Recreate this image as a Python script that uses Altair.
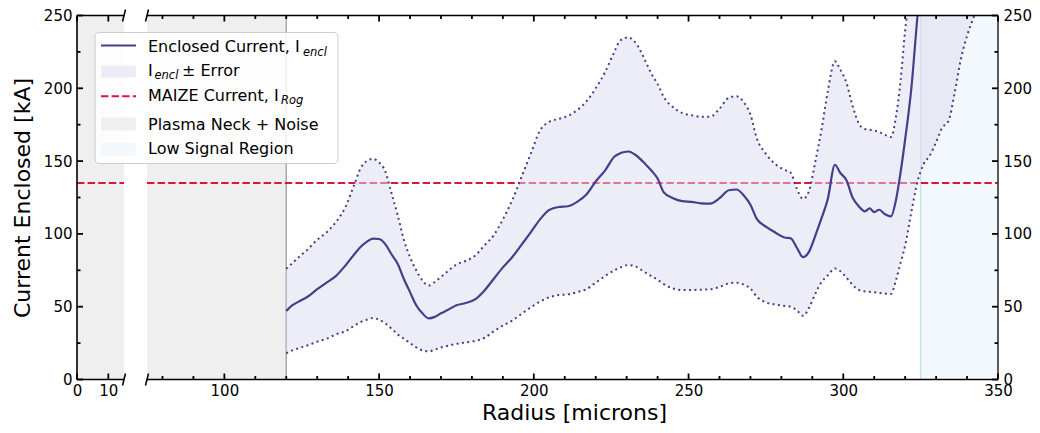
import altair as alt
import pandas as pd

# ---------------- data ----------------
radius = [120, 122, 124, 127, 130, 133, 136, 139, 142, 144, 146, 148, 150, 152, 154, 156, 158,
          160, 162, 164, 166, 168, 170, 172, 175, 178, 181, 184, 187, 190, 193, 196, 199, 202,
          205, 208, 211, 214, 217, 220, 223, 226, 228, 230.5, 233, 236, 238, 240, 242, 245,
          248, 251, 254, 257, 260, 263, 265.5, 268, 270, 272, 275, 278, 281, 283, 285, 287,
          289, 291, 293, 295, 297.3, 299, 301, 303, 305, 307, 308.5, 310, 311.6, 313.5, 315.4,
          317, 318.5, 320, 322, 324, 326, 328, 330, 332, 334, 336, 338, 340, 342, 344]
current = [47, 51, 53.5, 57, 62, 66.5, 71, 78, 86, 91, 94.5, 96.8, 96.5, 93, 86, 79.5, 69,
           60, 51, 45.5, 42, 43, 45.5, 47.5, 51, 52.5, 55, 61, 69, 77, 84, 92.5, 101, 110,
           116.5, 118.5, 119, 122, 127, 136, 143.5, 153, 155.5, 156.6, 154, 148, 143.5, 138,
           128.5, 124.5, 122.5, 122, 121, 120.8, 124.5, 130, 130.5, 126, 120, 110.5, 105, 101,
           97.5, 97, 90.5, 84, 88, 99, 111, 124, 147.5, 142, 137, 125, 119, 115.5, 117.5, 115,
           116.6, 113.5, 112, 123, 142, 165, 200, 250, 290, None, None, None, None, None,
           None, None, None, None]
upper = [76, 80, 84, 89.5, 96, 101, 108, 118, 134, 145, 150, 151.5, 149, 143, 128, 113, 96,
         84, 75, 68, 64.5, 67, 70.5, 74, 79, 81.5, 85, 92, 99, 110, 123, 139, 155, 171,
         177, 179, 181, 185, 191, 200, 211, 225, 233, 235, 231, 219, 210, 203, 194, 187,
         183, 181.5, 180.5, 180.5, 186, 193.5, 194.5, 190, 182, 166, 155, 148, 144, 142, 131,
         124, 130, 150, 172, 198, 218.6, 213, 204, 188, 176, 172, 171.5, 171, 170, 168, 166.5,
         180, 205, 240, 270, 300, 330, 360, 380, 400, 420, 440, 460, 480, 500, 520]
lower = [18, 20, 21.5, 23.5, 26, 28, 31, 33, 37, 39.5, 41, 42.2, 41, 38.5, 35, 31, 28,
         25, 22, 20, 19.3, 20.5, 22, 23, 24.5, 25.5, 26.5, 28.5, 33, 37, 40.5, 45, 49.5, 53.5,
         56.5, 58, 58.5, 60, 62, 66.5, 71, 75, 77, 78.6, 77.5, 73.5, 71, 68.5, 65.5, 62.5,
         61.5, 61.5, 61.7, 62, 63.5, 66, 66.5, 65, 62.5, 57, 53, 51.5, 50.5, 50, 47.5, 43.7,
         49.5, 59, 67, 71.5, 76.3, 74.5, 70, 65, 61.5, 60.5, 60.2, 60, 59.5, 59, 58.7,
         68, 80, 92, 115, 136, 148, 154, 163, 173, 177.5, 197, 220, 236, 248, 258]

MAIZE_CURRENT = 135
NECK_END = 120
LOW_SIGNAL_START = 325
X_MAX = 350
Y_MAX = 250
BREAK_LO, BREAK_HI = 15, 75

x_labels = [0, 10, 100, 150, 200, 250, 300, 350]
x_major = [0, 10, 100, 150, 200, 250, 300, 350]
x_minor = [80, 90, 110, 120, 130, 140, 160, 170, 180, 190, 210, 220, 230, 240,
           260, 270, 280, 290, 310, 320, 330, 340]
y_major = [0, 50, 100, 150, 200, 250]
y_minor = [25, 75, 125, 175, 225]

legend_main = ["Enclosed Current, I", "I", "MAIZE Current, I", "Plasma Neck + Noise", "Low Signal Region"]
legend_sub = ["encl", "encl", "Rog"]
legend_tail = "± Error"

# ---------------- styling ----------------
W, H = 921, 364
FONT = "DejaVu Sans"
LINE_COLOR = "#483d8b"
BAND_COLOR = "#dcdcf0"
BAND_OPACITY = 0.5
RED = "#dc143c"
GRAY_FILL = "#efefef"
BLUE_FILL = "#f2f8fb"
INTERP = "monotone"
TICK_FONT = 15

xscale = alt.Scale(domain=[0, BREAK_LO, BREAK_HI, X_MAX], range=[0, 47, 70, W], nice=False, zero=False)
yscale = alt.Scale(domain=[0, Y_MAX], nice=False, zero=False)

df = pd.DataFrame({"radius": radius, "current": current, "upper": upper, "lower": lower})
regions = pd.DataFrame({"x0": [0, BREAK_HI, LOW_SIGNAL_START],
                        "x1": [BREAK_LO, NECK_END, X_MAX],
                        "kind": ["neck", "neck", "low"]})
edges = pd.DataFrame({"x": [NECK_END, LOW_SIGNAL_START], "kind": ["neck", "low"]})
segments = pd.DataFrame({"x0": [0, BREAK_HI], "x1": [BREAK_LO, X_MAX], "y": [MAIZE_CURRENT] * 2})
breaks = pd.DataFrame({"xb": [BREAK_LO, BREAK_HI]})


def X(field, axis=None):
    return alt.X(field, type="quantitative", scale=xscale, axis=axis)


def Y(field, axis=None):
    return alt.Y(field, type="quantitative", scale=yscale, axis=axis)


x_axis = alt.Axis(values=x_labels, format="d", title="Radius [microns]", titleFont=FONT,
                  titleFontSize=22, titleFontWeight="normal", titleColor="#000",
                  titleX=497, titleY=40, titleBaseline="alphabetic", titleAlign="center",
                  labelFont=FONT, labelFontSize=TICK_FONT, labelColor="#000", labelPadding=4,
                  labelFlush=False, labelOverlap=False, ticks=False, domain=False, grid=False, zindex=1)
y_axis_left = alt.Axis(values=y_major, format="d", title="Current Enclosed [kA]", titleFont=FONT,
                       titleFontSize=22, titleFontWeight="normal", titleColor="#000",
                       titleX=-55, titleY=H / 2, titleAngle=270, titleBaseline="middle",
                       titleAlign="center", labelFont=FONT, labelFontSize=TICK_FONT, labelColor="#000",
                       labelPadding=5, ticks=False, domain=False, grid=False, zindex=1)
y_axis_right = alt.Axis(values=y_major, format="d", title=None, orient="right",
                        labelFont=FONT, labelFontSize=TICK_FONT, labelColor="#000",
                        labelPadding=5, ticks=False, domain=False, grid=False, zindex=1)

region_layer = alt.Chart(regions).mark_rect().encode(
    x=X("x0"), x2="x1", y=alt.value(0), y2=alt.value(H),
    color=alt.Color("kind:N", scale=alt.Scale(domain=["neck", "low"], range=[GRAY_FILL, BLUE_FILL]), legend=None),
)
edge_layer = alt.Chart(edges).mark_rule(strokeWidth=1.5).encode(
    x=X("x"), y=alt.value(0), y2=alt.value(H),
    color=alt.Color("kind:N", scale=alt.Scale(domain=["neck", "low"], range=["#a8a8a8", "#c3e2ec"]), legend=None),
)
maize_layer = alt.Chart(segments).mark_rule(color=RED, strokeWidth=2, strokeDash=[7.4, 3.2]).encode(
    x=X("x0"), x2="x1", y=Y("y"),
)
band_layer = alt.Chart(df).mark_area(color=BAND_COLOR, opacity=BAND_OPACITY, clip=True,
                                     interpolate=INTERP).encode(
    x=X("radius", x_axis), y=Y("lower", y_axis_left), y2="upper",
)
upper_layer = alt.Chart(df).mark_line(color=LINE_COLOR, strokeWidth=2, strokeDash=[2, 3.4], clip=True,
                                      interpolate=INTERP).encode(
    x=X("radius"), y=Y("upper", y_axis_right),
)
lower_layer = alt.Chart(df).mark_line(color=LINE_COLOR, strokeWidth=2, strokeDash=[2, 3.4], clip=True,
                                      interpolate=INTERP).encode(
    x=X("radius"), y=Y("lower"),
)
line_layer = alt.Chart(df).mark_line(color=LINE_COLOR, strokeWidth=2.2, clip=True,
                                     interpolate=INTERP).encode(
    x=X("radius"), y=Y("current"),
)

# spines (top / bottom broken, left / right full)
spine_df = pd.DataFrame({"x0": [0, BREAK_HI], "x1": [BREAK_LO, X_MAX]})
spine_bottom = alt.Chart(spine_df).mark_rule(color="#000", strokeWidth=1.6).encode(
    x=X("x0"), x2="x1", y=alt.value(H))
spine_top = alt.Chart(spine_df).mark_rule(color="#000", strokeWidth=1.6).encode(
    x=X("x0"), x2="x1", y=alt.value(0))
spine_left = alt.Chart(pd.DataFrame({"y": [0]})).mark_rule(color="#000", strokeWidth=1.6).encode(
    x=alt.value(0), y=alt.value(0), y2=alt.value(H))
spine_right = alt.Chart(pd.DataFrame({"y": [0]})).mark_rule(color="#333", strokeWidth=1.6).encode(
    x=alt.value(W), y=alt.value(0), y2=alt.value(H))


# inward ticks
def xticks(vals, length):
    d = pd.DataFrame({"t": vals})
    bot = alt.Chart(d).mark_rule(color="#000", strokeWidth=1.8).encode(
        x=X("t"), y=alt.value(H), y2=alt.value(H - length))
    top = alt.Chart(d).mark_rule(color="#000", strokeWidth=1.8).encode(
        x=X("t"), y=alt.value(0), y2=alt.value(length))
    return [bot, top]


def yticks(vals, length):
    d = pd.DataFrame({"t": vals})
    left = alt.Chart(d).mark_rule(color="#000", strokeWidth=1.8).encode(
        y=Y("t"), x=alt.value(0), x2=alt.value(length))
    right = alt.Chart(d).mark_rule(color="#000", strokeWidth=1.8).encode(
        y=Y("t"), x=alt.value(W), x2=alt.value(W - length))
    return [left, right]


tick_layers = xticks(x_major, 6) + xticks(x_minor, 3.5) + yticks(y_major, 6) + yticks(y_minor, 3.5)

break_layers = []
for ypx in (0, H):
    break_layers.append(
        alt.Chart(breaks).mark_rule(color="#000", strokeWidth=1.6, xOffset=-1.5, x2Offset=1.5).encode(
            x=X("xb"), x2="xb", y=alt.value(ypx + 6), y2=alt.value(ypx - 6))
    )

# ---------------- legend (manual, to allow subscripts) ----------------
one = pd.DataFrame({"a": [0]})
leg_box = alt.Chart(one).mark_rect(fill="white", fillOpacity=0.85, stroke="#cccccc", strokeWidth=1,
                                   cornerRadius=4).encode(
    x=alt.value(18), x2=alt.value(261), y=alt.value(17), y2=alt.value(148))
leg_line = alt.Chart(one).mark_rule(color=LINE_COLOR, strokeWidth=2.2).encode(
    x=alt.value(24), x2=alt.value(59), y=alt.value(30))
leg_band = alt.Chart(one).mark_rect(color=BAND_COLOR, opacity=BAND_OPACITY).encode(
    x=alt.value(24), x2=alt.value(59), y=alt.value(50), y2=alt.value(62))
leg_red = alt.Chart(one).mark_rule(color=RED, strokeWidth=2, strokeDash=[7.4, 3.2]).encode(
    x=alt.value(24), x2=alt.value(59), y=alt.value(80.7))
leg_gray = alt.Chart(one).mark_rect(color=GRAY_FILL).encode(
    x=alt.value(24), x2=alt.value(59), y=alt.value(102), y2=alt.value(115))
leg_blue = alt.Chart(one).mark_rect(color=BLUE_FILL).encode(
    x=alt.value(24), x2=alt.value(59), y=alt.value(127), y2=alt.value(140))

main_y = [36.7, 60, 85, 114.3, 138.3]
leg_texts = []
for txt, yb in zip(legend_main, main_y):
    leg_texts.append(alt.Chart(pd.DataFrame({"t": [txt]})).mark_text(
        font=FONT, fontSize=16, align="left", baseline="alphabetic", color="#000").encode(
        x=alt.value(71), y=alt.value(yb), text="t:N"))
sub_pos = [(226, 40.2), (77.5, 63.5), (204, 88.5)]
for txt, (xs, ys) in zip(legend_sub, sub_pos):
    leg_texts.append(alt.Chart(pd.DataFrame({"t": [txt]})).mark_text(
        font=FONT, fontSize=11.5, fontStyle="italic", align="left", baseline="alphabetic", color="#000").encode(
        x=alt.value(xs), y=alt.value(ys), text="t:N"))
leg_texts.append(alt.Chart(pd.DataFrame({"t": [legend_tail]})).mark_text(
    font=FONT, fontSize=16, align="left", baseline="alphabetic", color="#000").encode(
    x=alt.value(105), y=alt.value(60), text="t:N"))

chart = alt.layer(
    region_layer, edge_layer, maize_layer, band_layer, upper_layer, lower_layer, line_layer,
    spine_bottom, spine_top, spine_left, spine_right, *tick_layers, *break_layers,
    leg_box, leg_line, leg_band, leg_red, leg_gray, leg_blue, *leg_texts,
).resolve_axis(x="independent", y="independent").resolve_scale(color="independent").properties(
    width=W, height=H,
    autosize=alt.AutoSizeParams(type="none"),
    padding={"left": 69, "top": 7.5, "right": 34, "bottom": 45},
).configure_view(stroke=None)

chart.save("out.html", embed_options={"renderer": "svg", "actions": False})
